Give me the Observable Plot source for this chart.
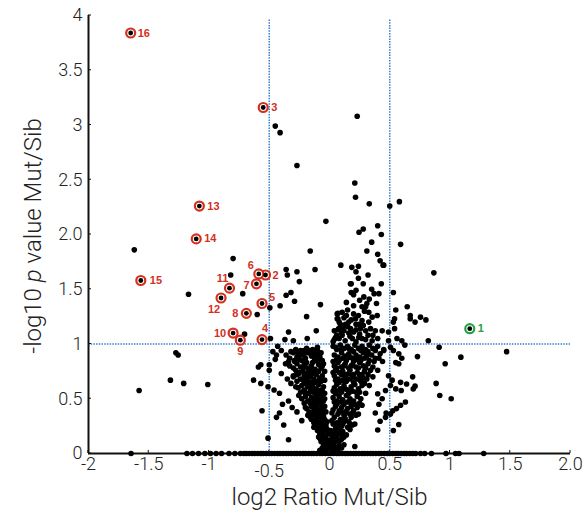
<!DOCTYPE html>
<html><head><meta charset="utf-8">
<script src="https://cdn.jsdelivr.net/npm/d3@7"></script>
<script src="https://cdn.jsdelivr.net/npm/@observablehq/plot@0.6"></script>
<style>body{margin:0;background:#fff}</style>
</head><body><div id="chart"></div>
<script>
// ---------- axis ticks ----------
const xTicks = [-2, -1.5, -1, -0.5, 0, 0.5, 1, 1.5, 2];
const xTickLabels = ["-2", "-1.5", "-1", "-0.5", "0", "0.5", "1", "1.5", "2.0"];
const yTicks = [0, 0.5, 1, 1.5, 2, 2.5, 3, 3.5, 4];
const yTickLabels = ["0", "0.5", "1", "1.5", "2.0", "2.5", "3", "3.5", "4"];
const foldCuts = [-0.5, 0.5];
const pCut = 1;

// ---------- highlighted proteins ----------
const sigLabels = ["1","2","3","4","5","6","7","8","9","10","11","12","13","14","15","16"];
const sigX = [1.164,-0.531,-0.55,-0.56,-0.56,-0.587,-0.606,-0.69,-0.74,-0.80,-0.83,-0.90,-1.08,-1.106,-1.566,-1.65];
const sigY = [1.14,1.63,3.16,1.04,1.37,1.64,1.55,1.28,1.035,1.10,1.51,1.42,2.26,1.96,1.58,3.84];
const sigGroup = ["up","down","down","down","down","down","down","down","down","down","down","down","down","down","down","down"];

// ---------- background proteins [log2 ratio, -log10 p] ----------
const upperPoints = [
[-0.45,2.99],[-0.41,2.93],[-0.27,2.63],[0.23,3.08],[0.21,2.47],[0.216,2.34],[0.33,2.28],[0.50,2.26],[0.58,2.30],
[-0.03,2.12],[0.28,2.05],[0.245,2.02],[0.40,2.08],[0.43,2.0],[0.59,1.91],[0.35,1.93],[-0.16,1.85],[0.31,1.85],
[0.40,1.82],[0.42,1.76],[0.45,1.72],[0.094,1.72],[0.185,1.70],[0.24,1.71],[0.22,1.66],[0.32,1.63],[-0.36,1.68],
[-0.35,1.63],[-0.27,1.66],[-0.12,1.68],[-0.80,1.78],[-0.82,1.63],[-1.62,1.86],[-1.17,1.455],[-0.72,1.46],[-0.60,1.27],
[-0.495,1.33],[-0.41,1.35],[-0.25,1.57],[-0.32,1.47],[-0.36,1.445],[-0.29,1.39],[-0.34,1.11],[-0.37,1.04],[-0.30,1.03],
[-0.705,1.09],[-0.49,1.05],[-0.075,1.36],[-0.19,1.25],[0.07,1.28],[0.07,1.23],[-0.11,1.12],[0.07,1.13],[0.06,1.08],
[-0.185,1.05],[0.866,1.65],[0.174,1.55],[0.18,1.47],[0.20,1.45],[0.22,1.49],[0.43,1.55],[0.37,1.46],[0.41,1.46],
[0.53,1.47],[0.285,1.43],[0.33,1.41],[0.31,1.37],[0.30,1.34],[0.39,1.37],[0.27,1.34],[0.645,1.34],[0.55,1.31],
[0.15,1.31],[0.105,1.29],[0.064,1.275],[0.064,1.23],[0.20,1.275],[0.216,1.23],[0.326,1.29],[0.354,1.245],[0.396,1.26],
[0.326,1.20],[0.27,1.215],[0.243,1.18],[0.16,1.20],[0.133,1.18],[0.09,1.18],[0.077,1.14],[0.12,1.12],[0.174,1.14],
[0.20,1.11],[0.257,1.14],[0.30,1.12],[0.34,1.14],[0.38,1.12],[0.437,1.12],[0.19,1.05],[0.243,1.06],[0.30,1.04],
[0.354,1.03],[0.49,1.11],[0.49,1.03],[0.54,1.14],[0.54,1.23],[0.56,1.05],[0.60,1.03],[0.67,1.26],[0.71,1.20],
[0.755,1.245],[0.05,1.06],[0.105,1.08],[0.67,1.23],[0.80,1.22],[0.53,1.20],[0.82,1.03],[0.445,1.72],[0.18,1.55],
[0.03,1.02],[0.08,1.05],[0.13,1.03],[0.17,1.07],[0.22,1.02],[0.27,1.05],[0.32,1.08],[0.10,1.10],[0.15,1.16],
[0.22,1.13],[0.12,1.24],[0.18,1.22],[0.24,1.26],[0.29,1.30],[0.20,1.35],[0.25,1.40],[0.14,1.38],[0.35,1.50],
[0.28,1.55],[0.24,1.60],[0.04,1.12],[0.16,1.10],[0.25,1.09],[0.11,1.15],[0.28,1.17],[0.08,1.20],[0.22,1.18],
[0.14,1.26],[0.04,1.04],[0.36,1.08],[0.40,1.05]
];
const leftLowPoints = [
[-1.275,0.92],[-1.256,0.90],[-0.47,0.93],[-0.43,0.98],[-0.40,0.94],[-0.44,0.90],[-0.45,0.86],[-1.58,0.575],[-1.32,0.67],
[-1.21,0.64],[-1.01,0.63],[-0.63,0.67],[-0.59,0.79],[-0.57,0.81],[-0.57,0.64],[-0.56,0.39],[-0.51,0.14],[-0.51,0.61],
[-0.50,0.81],[-0.50,0.76],[-0.46,0.58],[-0.415,0.55],[-0.44,0.33],[-0.415,0.37],[-0.39,0.45],[-0.38,0.26],[-0.34,0.125],
[-0.40,0.73],[-0.365,0.82],[-0.34,0.84],[-0.29,0.85],[-0.255,0.90],[-0.20,0.92],[-0.17,0.94],[-0.13,0.91],[-0.10,0.94],
[-0.09,0.895],[-0.35,0.68],[-0.32,0.64],[-0.30,0.71],[-0.255,0.73],[-0.21,0.79],[-0.17,0.76],[-0.14,0.73],[-0.28,0.61],
[-0.255,0.53],[-0.34,0.48],[-0.31,0.42],[-0.27,0.38],[-0.23,0.30],[-0.20,0.42],[-0.21,0.575],[-0.17,0.64],[-0.13,0.56],
[-0.17,0.48],[-0.12,0.42],[-0.06,0.575],[-0.16,0.33],[-0.10,0.27],[-0.06,0.21],[-0.09,0.15],[-0.03,0.12],[-0.006,0.06],[0.02,0.09]
];
const vLeftArm = [
[-0.36,0.90],[-0.33,0.87],[-0.30,0.92],[-0.27,0.88],[-0.25,0.86],[-0.22,0.90],[-0.20,0.87],[-0.18,0.92],[-0.15,0.89],
[-0.12,0.86],[-0.10,0.91],[-0.08,0.88],[-0.06,0.85],[-0.33,0.80],[-0.30,0.78],[-0.27,0.82],[-0.24,0.79],[-0.21,0.81],
[-0.18,0.78],[-0.15,0.80],[-0.12,0.77],[-0.09,0.81],[-0.07,0.78],[-0.05,0.82],[-0.30,0.70],[-0.27,0.72],[-0.24,0.68],
[-0.21,0.71],[-0.19,0.67],[-0.16,0.70],[-0.13,0.68],[-0.11,0.72],[-0.08,0.69],[-0.06,0.71],[-0.26,0.60],[-0.23,0.62],
[-0.21,0.58],[-0.18,0.61],[-0.16,0.57],[-0.14,0.62],[-0.11,0.59],[-0.09,0.63],[-0.07,0.58],[-0.05,0.61],[-0.23,0.50],
[-0.20,0.52],[-0.18,0.48],[-0.15,0.51],[-0.13,0.47],[-0.11,0.53],[-0.09,0.49],[-0.07,0.52],[-0.05,0.48],[-0.19,0.41],
[-0.17,0.38],[-0.15,0.43],[-0.13,0.39],[-0.11,0.42],[-0.09,0.37],[-0.07,0.41],[-0.05,0.38],[-0.04,0.43],[-0.15,0.31],
[-0.13,0.28],[-0.11,0.32],[-0.09,0.29],[-0.07,0.33],[-0.06,0.27],[-0.04,0.31],[-0.03,0.26],[-0.10,0.21],[-0.08,0.18],
[-0.07,0.23],[-0.05,0.20],[-0.04,0.16],[-0.02,0.22],[-0.01,0.18],[-0.07,0.11],[-0.05,0.08],[-0.04,0.13],[-0.02,0.10],
[-0.01,0.06],[0.00,0.12],[0.01,0.08],[-0.03,0.04],[0.02,0.03],[-0.01,0.02],[-0.28,0.95],[-0.24,0.94],[-0.19,0.96],
[-0.14,0.95],[-0.10,0.97],[-0.22,0.75],[-0.17,0.74],[-0.12,0.74],[-0.20,0.64],[-0.15,0.65],[-0.10,0.66],[-0.17,0.55],
[-0.12,0.55],[-0.08,0.55],[-0.14,0.45],[-0.10,0.45],[-0.06,0.44],[-0.12,0.35],[-0.08,0.34],[-0.05,0.34],[-0.09,0.25],
[-0.06,0.24],[-0.03,0.24],[-0.08,0.03],[-0.05,0.02],[-0.06,0.05],
[-0.32,0.93],[-0.26,0.91],[-0.21,0.94],[-0.16,0.92],[-0.13,0.88],[-0.07,0.92],[-0.29,0.84],[-0.23,0.85],[-0.19,0.83],
[-0.14,0.83],[-0.10,0.84],[-0.06,0.80],[-0.28,0.76],[-0.25,0.74],[-0.19,0.73],[-0.14,0.76],[-0.09,0.75],[-0.04,0.75],
[-0.27,0.66],[-0.22,0.67],[-0.18,0.69],[-0.12,0.65],[-0.07,0.66],[-0.04,0.67],[-0.24,0.56],[-0.20,0.55],[-0.15,0.59],
[-0.10,0.56],[-0.04,0.55],[-0.21,0.46],[-0.16,0.46],[-0.12,0.49],[-0.08,0.46],[-0.04,0.50],[-0.18,0.35],[-0.14,0.36],
[-0.10,0.39],[-0.06,0.36],[-0.03,0.38],[-0.13,0.24],[-0.11,0.26],[-0.07,0.28],[-0.02,0.29],[-0.08,0.14],[-0.06,0.17],
[-0.03,0.15],[-0.02,0.07],[0.00,0.04]
];
const vRightArm = [
[0.03,0.98],[0.06,0.95],[0.09,0.99],[0.12,0.96],[0.15,0.98],[0.18,0.95],[0.21,0.99],[0.24,0.96],[0.27,0.98],[0.30,0.95],
[0.33,0.99],[0.36,0.96],[0.40,0.98],[0.04,0.90],[0.07,0.88],[0.10,0.92],[0.13,0.89],[0.16,0.91],[0.19,0.87],[0.22,0.90],
[0.25,0.88],[0.28,0.92],[0.31,0.89],[0.35,0.90],[0.38,0.87],[0.42,0.91],[0.04,0.80],[0.07,0.83],[0.10,0.79],[0.13,0.82],
[0.16,0.78],[0.19,0.81],[0.22,0.79],[0.25,0.83],[0.28,0.80],[0.32,0.82],[0.36,0.79],[0.04,0.71],[0.07,0.68],[0.10,0.72],
[0.13,0.69],[0.16,0.73],[0.19,0.70],[0.22,0.68],[0.25,0.72],[0.28,0.69],[0.32,0.72],[0.04,0.60],[0.06,0.63],[0.09,0.59],
[0.12,0.62],[0.15,0.58],[0.18,0.61],[0.21,0.63],[0.24,0.59],[0.27,0.62],[0.03,0.51],[0.06,0.48],[0.08,0.52],[0.11,0.49],
[0.14,0.53],[0.17,0.50],[0.20,0.48],[0.23,0.52],[0.26,0.50],[0.03,0.40],[0.05,0.43],[0.08,0.39],[0.10,0.42],[0.13,0.38],
[0.15,0.41],[0.18,0.43],[0.20,0.39],[0.23,0.42],[0.02,0.30],[0.04,0.33],[0.06,0.28],[0.09,0.31],[0.11,0.27],[0.13,0.32],
[0.16,0.29],[0.18,0.33],[0.01,0.21],[0.03,0.18],[0.05,0.22],[0.07,0.19],[0.09,0.23],[0.11,0.20],[0.14,0.17],[0.02,0.13],
[0.04,0.10],[0.06,0.14],[0.08,0.11],[0.10,0.13],[0.05,0.06],[0.03,0.05],[0.05,0.76],[0.11,0.75],[0.17,0.76],[0.23,0.74],
[0.29,0.75],[0.08,0.65],[0.14,0.66],[0.20,0.65],[0.26,0.66],[0.05,0.55],[0.10,0.56],[0.16,0.55],[0.22,0.56],[0.06,0.45],
[0.12,0.45],[0.18,0.46],[0.07,0.36],[0.12,0.35],[0.17,0.36],[0.05,0.25],[0.10,0.25],[0.15,0.24],[0.08,0.85],[0.14,0.85],
[0.20,0.84],[0.26,0.85],[0.33,0.85],[0.45,0.95],[0.44,0.84],[0.40,0.76],[0.36,0.70],[0.33,0.62],[0.30,0.55],[0.27,0.44],
[0.24,0.36],[0.21,0.27],[0.17,0.22],[0.04,0.02],[0.07,0.04],[0.10,0.05],[0.12,0.08],
[0.05,0.97],[0.10,0.95],[0.16,0.96],[0.20,0.93],[0.26,0.94],[0.32,0.93],[0.38,0.94],[0.06,0.86],[0.11,0.87],[0.17,0.88],
[0.23,0.86],[0.29,0.87],[0.37,0.84],[0.41,0.87],[0.03,0.84],[0.06,0.78],[0.12,0.80],[0.18,0.80],[0.24,0.78],[0.30,0.78],
[0.34,0.76],[0.03,0.74],[0.08,0.74],[0.14,0.72],[0.20,0.72],[0.27,0.72],[0.31,0.68],[0.05,0.67],[0.11,0.67],[0.17,0.68],
[0.24,0.68],[0.29,0.64],[0.03,0.57],[0.07,0.57],[0.13,0.59],[0.19,0.57],[0.25,0.56],[0.04,0.47],[0.09,0.47],[0.15,0.47],
[0.21,0.45],[0.25,0.46],[0.02,0.37],[0.09,0.38],[0.14,0.37],[0.19,0.37],[0.22,0.35],[0.03,0.27],[0.08,0.27],[0.12,0.29],
[0.17,0.27],[0.19,0.26],[0.02,0.16],[0.06,0.17],[0.10,0.17],[0.12,0.15],[0.08,0.07],[0.01,0.11]
];
const rightLowPoints = [
[0.73,0.885],[0.55,0.83],[0.575,0.82],[0.69,0.70],[0.59,0.65],[0.64,0.635],[0.71,0.615],[0.55,0.59],[0.506,0.62],
[0.63,0.47],[0.59,0.44],[0.556,0.41],[0.525,0.39],[0.506,0.36],[0.465,0.33],[0.42,0.295],[0.40,0.215],[0.53,0.21],
[0.38,0.37],[0.41,0.45],[0.437,0.50],[0.40,0.545],[0.465,0.575],[0.49,0.71],[0.575,0.91],[0.53,0.94],[0.506,0.97],
[0.45,0.94],[0.21,0.064],[0.625,0.99],[0.91,0.97],[1.09,0.88],[1.47,0.93],[0.96,0.82],[0.60,0.87],[0.695,0.59],
[0.885,0.64],[0.915,0.53],[1.01,0.50],[0.47,0.37],[0.575,0.265],[0.595,0.575],[0.52,0.67]
];
const zeroLineX = [
-1.647,-1.183,-1.137,-1.087,-1.034,-0.988,-0.941,-0.896,-0.834,-0.785,-0.739,
-0.71,-0.69,-0.665,-0.64,-0.62,-0.595,-0.57,-0.55,-0.525,-0.50,-0.48,-0.455,-0.43,-0.41,-0.385,-0.36,-0.34,-0.315,
-0.29,-0.27,-0.245,-0.22,-0.20,-0.175,-0.15,-0.13,-0.105,-0.08,-0.06,-0.035,-0.01,0.01,0.035,0.06,0.08,0.105,0.13,
0.15,0.175,0.20,0.22,0.245,0.27,0.29,0.315,0.34,0.36,0.385,0.41,0.43,0.455,0.48,0.50,0.525,0.55,0.57,0.595,0.62,
0.64,0.665,0.69,0.715,0.755,0.79,0.846,0.967,1.046,1.075,1.28
];

// ---------- styles ----------
const BLUE = "#3b7fd2", RED = "#d3301d", GREEN = "#27a145";
const labelPlacement = {
  "1": [8, 0, "start"], "2": [7, 0, "start"], "3": [8, 0, "start"], "4": [3, -11, "middle"],
  "5": [7, -6, "start"], "6": [-8, -8, "middle"], "7": [-10, 2, "middle"], "8": [-11, 0, "middle"],
  "9": [0, 11, "middle"], "10": [-13, 0, "middle"], "11": [-7, -10, "middle"], "12": [-7, 11, "middle"],
  "13": [8, 0, "start"], "14": [8, 0, "start"], "15": [9, 0, "start"], "16": [7, 0, "start"]
};

const background = [...upperPoints, ...leftLowPoints, ...vLeftArm, ...vRightArm, ...rightLowPoints]
  .map(([x, y]) => ({x, y}))
  .concat(zeroLineX.map(x => ({x, y: 0})));
const sig = sigLabels.map((label, i) => ({label, x: sigX[i], y: sigY[i], group: sigGroup[i]}));
const xt = xTicks.map((v, i) => ({v, label: xTickLabels[i]}));
const yt = yTicks.map((v, i) => ({v, label: yTickLabels[i]}));

const font = "Roboto, 'Helvetica Neue', Arial, sans-serif";

const labelMarks = sig.map(d => {
  const [dx, dy, anchor] = labelPlacement[d.label];
  return Plot.text([d], {x: "x", y: "y", text: "label", dx, dy, textAnchor: anchor,
    fill: d.group === "up" ? GREEN : RED, fontSize: 11, fontWeight: "bold",
    fontFamily: "Arial, 'Liberation Sans', sans-serif"});
});

const chart = Plot.plot({
  width: 585, height: 522,
  marginLeft: 88, marginRight: 15, marginTop: 15, marginBottom: 69,
  style: {fontFamily: font, background: "#fff"},
  x: {type: "linear", domain: [-2, 2], axis: null},
  y: {type: "linear", domain: [0, 4], axis: null},
  marks: [
    Plot.ruleY([pCut], {x1: -2, x2: 2, stroke: BLUE, strokeWidth: 1.5, strokeDasharray: "1.5,1.2"}),
    Plot.ruleX(foldCuts, {y1: 0, y2: 3.96, stroke: BLUE, strokeWidth: 1.5, strokeDasharray: "1.5,1.2"}),
    Plot.ruleY([0], {x1: -2, x2: 2, stroke: "#111", strokeWidth: 2}),
    Plot.ruleX([-2], {y1: 0, y2: 4, stroke: "#111", strokeWidth: 2}),
    Plot.dot(background, {x: "x", y: "y", r: 2.8, fill: "#000", stroke: "none"}),
    Plot.dot(sig, {x: "x", y: "y", r: 4.5, fill: "#fff", stroke: d => d.group === "up" ? GREEN : RED, strokeWidth: 2.2}),
    Plot.dot(sig, {x: "x", y: "y", r: 2.4, fill: "#000"}),
    ...labelMarks,
    Plot.text(xt.filter(d => d.v !== -0.5), {x: "v", text: "label", frameAnchor: "bottom", dy: 16, fontSize: 18, fontWeight: 300, fill: "#222"}),
    Plot.text(xt.filter(d => d.v === -0.5), {x: "v", text: "label", frameAnchor: "bottom", dy: 23, fontSize: 18, fontWeight: 300, fill: "#222"}),
    Plot.text(yt, {y: "v", text: "label", frameAnchor: "left", dx: -6, textAnchor: "end", fontSize: 18, fontWeight: 300, fill: "#222"}),
    Plot.text(["log2 Ratio Mut/Sib"], {frameAnchor: "bottom", dy: 51, fontSize: 24, fontWeight: 300, fill: "#222"})
  ]
});

// small inward tick marks, placed with the plot's own scales
const svg = d3.select(chart);
const ys = chart.scale("y"), xs = chart.scale("x");
const x0 = xs.apply(-2), y0 = ys.apply(0);
const tg = svg.append("g").attr("stroke", "#111").attr("stroke-width", 1);
tg.selectAll("line.yt").data(yTicks).join("line").attr("class", "yt")
  .attr("x1", x0).attr("x2", x0 + 3)
  .attr("y1", d => ys.apply(d)).attr("y2", d => ys.apply(d));
tg.selectAll("line.xt").data(xTicks).join("line").attr("class", "xt")
  .attr("x1", d => xs.apply(d)).attr("x2", d => xs.apply(d))
  .attr("y1", y0).attr("y2", y0 - 3);

const yt2 = svg.append("text")
  .attr("transform", `translate(33,${(ys.apply(0) + ys.apply(4)) / 2 + 2}) rotate(-90)`)
  .attr("text-anchor", "middle").attr("font-size", 24).attr("font-weight", 300)
  .attr("font-family", font).attr("fill", "#222").attr("dy", "0.35em");
yt2.append("tspan").text("-log10 ");
yt2.append("tspan").attr("font-style", "italic").text("p");
yt2.append("tspan").text(" value Mut/Sib");

document.getElementById("chart").append(chart);
</script>
</body></html>
